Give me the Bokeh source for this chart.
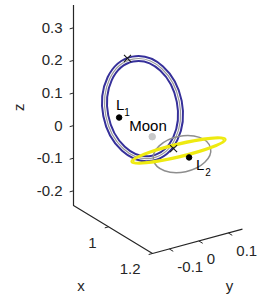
import numpy as np
from bokeh.plotting import figure
from bokeh.models import Range1d
from bokeh.embed import file_html
from bokeh.resources import INLINE
from bokeh.core.properties import value

# ---------------- data ----------------
x_lim = [0.84, 1.2]
y_lim = [-0.157, 0.148]
z_lim = [-0.245, 0.37]

x_ticks = [1.0, 1.2]
x_tick_labels = ["1", "1.2"]
y_ticks = [-0.1, 0.0, 0.1]
y_tick_labels = ["-0.1", "0", "0.1"]
z_ticks = [-0.2, -0.1, 0.0, 0.1, 0.2, 0.3]
z_tick_labels = ["-0.2", "-0.1", "0", "0.1", "0.2", "0.3"]

# Lagrange points and Moon
point_x = [0.8369, 0.9878, 1.1557]
point_y = [0.0, 0.0, 0.0]
point_z = [-0.015, -0.012, -0.007]

# initial states of the orbits (x markers)
start_x = [0.875, 1.085]
start_y = [0.0, 0.0]
start_z = [0.182, -0.009]

# orbit loops: centre + two semi-axis vectors (u in x-z plane, v in x-y plane)
loop_cx = [0.9435, 0.9435, 0.9435, 1.1235, 1.1075, 1.1075]
loop_cy = [0.0, 0.0, 0.0, 0.0, 0.0, 0.0]
loop_cz = [0.056, 0.056, 0.056, -0.0098, -0.0055, -0.0055]
loop_ux = [-0.046, -0.0438, -0.0417, 0.017, 0.0075, 0.006]
loop_uz = [0.1407, 0.1341, 0.1275, -0.047, -0.0179, -0.0143]
loop_vx = [0.016, 0.015, 0.014, 0.009, 0.0077, 0.0074]
loop_vy = [0.121, 0.1134, 0.1059, 0.090, 0.154, 0.148]

# ---------------- styles / view ----------------
BLUE = "#36309a"
GREY_IN = "#9a9a9a"
GREY = "#8e8e8e"
YELLOW = "#eeea10"
AX = "#262626"
FONT = value("Liberation Sans")
loop_colors = [BLUE, GREY_IN, BLUE, GREY, YELLOW, YELLOW]
loop_widths = [2.0, 1.2, 2.0, 1.5, 2.0, 2.0]

# view (pixels per data unit along each axis, corner of the box)
ORIG = (73.0, 205.0)
EX = (219.4, 133.3)
EY = (295.0, -80.0)
EZ = (0.0, -326.0)


def proj(x, y, z):
    x = np.asarray(x, float) - x_lim[0]
    y = np.asarray(y, float) - y_lim[0]
    z = np.asarray(z, float) - z_lim[0]
    px = ORIG[0] + x * EX[0] + y * EY[0] + z * EZ[0]
    py = ORIG[1] + x * EX[1] + y * EY[1] + z * EZ[1]
    return px, -py


def lin(vx, vy, vz):
    return np.array([vx * EX[0] + vy * EY[0] + vz * EZ[0],
                     -(vx * EX[1] + vy * EY[1] + vz * EZ[1])])


W, H = 258, 294
p = figure(width=W, height=H, output_backend="svg", toolbar_location=None,
           x_range=Range1d(0, W), y_range=Range1d(-H, 0),
           x_axis_type=None, y_axis_type=None, min_border=0,
           outline_line_color=None, background_fill_color="white",
           border_fill_color="white")

# ---- box axes ----
ax_x = [x_lim[0], x_lim[0], x_lim[1], x_lim[1]]
ax_y = [y_lim[0], y_lim[0], y_lim[0], y_lim[1]]
ax_z = [z_lim[1], z_lim[0], z_lim[0], z_lim[0]]
axx, axy = proj(ax_x, ax_y, ax_z)
p.line(axx, axy, line_color=AX, line_width=1.2)

tick_len_y = 0.013
tick_len_x = 0.018
# z ticks
n = len(z_ticks)
x0, y0 = proj([x_lim[0]] * n, [y_lim[0]] * n, z_ticks)
x1, y1 = proj([x_lim[0]] * n, [y_lim[0] - tick_len_y] * n, z_ticks)
p.segment(x0, y0, x1, y1, line_color=AX, line_width=1)
p.text(x0, y0, text=z_tick_labels, text_font=FONT, text_font_size="15px",
       text_color=AX, text_align="right", text_baseline="middle", x_offset=-11)
# x ticks
n = len(x_ticks)
x0, y0 = proj(x_ticks, [y_lim[0]] * n, [z_lim[0]] * n)
x1, y1 = proj(x_ticks, [y_lim[0] - tick_len_y] * n, [z_lim[0]] * n)
p.segment(x0, y0, x1, y1, line_color=AX, line_width=1)
p.text(x0, y0, text=x_tick_labels, text_font=FONT, text_font_size="15px",
       text_color=AX, text_align="right", text_baseline="middle",
       x_offset=-12, y_offset=16)
# y ticks
n = len(y_ticks)
x0, y0 = proj([x_lim[1]] * n, y_ticks, [z_lim[0]] * n)
x1, y1 = proj([x_lim[1] + tick_len_x] * n, y_ticks, [z_lim[0]] * n)
p.segment(x0, y0, x1, y1, line_color=AX, line_width=1)
p.text(x0, y0, text=y_tick_labels, text_font=FONT, text_font_size="15px",
       text_color=AX, text_align="left", text_baseline="middle",
       x_offset=8, y_offset=18)

# axis labels
lx, ly = proj([np.mean(x_lim)], [y_lim[0]], [z_lim[0]])
p.text(lx, ly, text=["x"], text_font=FONT, text_font_size="15px", text_color=AX,
       text_align="center", text_baseline="middle", x_offset=-32, y_offset=56)
lx, ly = proj([x_lim[1]], [np.mean(y_lim)], [z_lim[0]])
p.text(lx, ly, text=["y"], text_font=FONT, text_font_size="15px", text_color=AX,
       text_align="center", text_baseline="middle", x_offset=32, y_offset=44)
lx, ly = proj([x_lim[0]], [y_lim[0]], [np.mean(z_lim)])
p.text(lx, ly, text=["z"], text_font=FONT, text_font_size="15px", text_color=AX,
       text_align="center", text_baseline="middle", angle=np.pi / 2,
       x_offset=-55, y_offset=2)

# ---- orbits ----
for i in range(len(loop_cx)):
    cx, cy = proj([loop_cx[i]], [loop_cy[i]], [loop_cz[i]])
    M = np.column_stack([lin(loop_ux[i], 0.0, loop_uz[i]),
                         lin(loop_vx[i], loop_vy[i], 0.0)])
    U, S, Vt = np.linalg.svd(M)
    ang = float(np.arctan2(U[1, 0], U[0, 0]))
    p.ellipse(x=cx, y=cy, width=[2 * S[0]], height=[2 * S[1]], angle=[ang],
              fill_color=None, line_color=loop_colors[i],
              line_width=loop_widths[i])

# ---- markers ----
sx, sy = proj(start_x, start_y, start_z)
p.scatter(sx, sy, marker="x", size=10, line_color="#1a1a1a", line_width=1.1)

px_, py_ = proj(point_x, point_y, point_z)
p.scatter([px_[0], px_[2]], [py_[0], py_[2]], marker="circle", size=5.5,
          fill_color="black", line_color="black")
p.scatter([px_[1]], [py_[1]], marker="circle", size=6.5,
          fill_color="#c8c8c8", line_color="#c8c8c8")

# labels
p.text([px_[0]], [py_[0]], text=["L"], text_font=FONT, text_font_size="15px",
       text_color="black", text_align="center", text_baseline="middle",
       x_offset=1, y_offset=-13)
p.text([px_[0]], [py_[0]], text=["1"], text_font=FONT, text_font_size="10px",
       text_color="black", text_align="center", text_baseline="middle",
       x_offset=8, y_offset=-6)
p.text([px_[1]], [py_[1]], text=["Moon"], text_font=FONT, text_font_size="15px",
       text_color="black", text_align="left", text_baseline="middle",
       x_offset=-23, y_offset=-11)
p.text([px_[2]], [py_[2]], text=["L"], text_font=FONT, text_font_size="15px",
       text_color="black", text_align="center", text_baseline="middle",
       x_offset=11, y_offset=7)
p.text([px_[2]], [py_[2]], text=["2"], text_font=FONT, text_font_size="10px",
       text_color="black", text_align="center", text_baseline="middle",
       x_offset=19, y_offset=15)

open("out.html", "w").write(file_html(p, INLINE))
